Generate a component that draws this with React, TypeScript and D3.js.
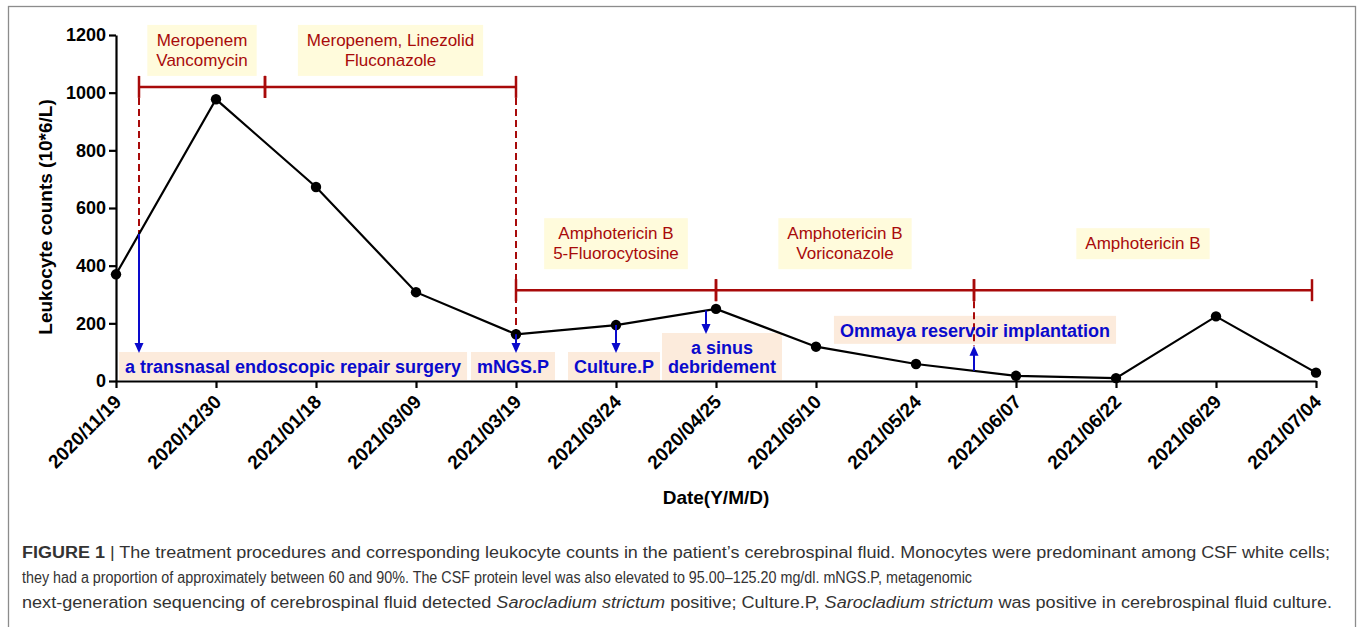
import React, {useEffect, useRef} from "react";
import * as d3 from "d3";

const dates: string[] = ["2020/11/19", "2020/12/30", "2021/01/18", "2021/03/09", "2021/03/19", "2021/03/24", "2020/04/25",
  "2021/05/10", "2021/05/24", "2021/06/07", "2021/06/22", "2021/06/29", "2021/07/04"];
const counts: number[] = [370, 977, 673, 308, 162, 194, 250, 119, 59, 18, 10, 224, 29];
const yTicks: number[] = [0, 200, 400, 600, 800, 1000, 1200];

// treatment periods, positions in date-index units
const drugStarts: number[] = [0.23, 1.49, 4, 6, 8.58];
const drugEnds: number[] = [1.49, 4, 6, 8.58, 11.96];
const drugLevels: number[] = [1020, 1020, 315, 315, 315];
const drugLabels: string[][] = [["Meropenem", "Vancomycin"], ["Meropenem, Linezolid", "Fluconazole"],
  ["Amphotericin B", "5-Fluorocytosine"], ["Amphotericin B", "Voriconazole"], ["Amphotericin B"]];

// procedures / lab events
const eventAt: number[] = [0.23, 4, 5, 5.9, 8.58];
const eventLabelAt: number[] = [1.77, 3.97, 4.98, 6.06, 8.59];
const eventUp: boolean[] = [false, false, false, false, true];
const eventDashed: boolean[] = [true, true, false, false, true];
const eventLabels: string[][] = [["a transnasal endoscopic repair surgery"], ["mNGS.P"], ["Culture.P"],
  ["a sinus", "debridement"], ["Ommaya reservoir implantation"]];

const RED = "#a80a0a";
const BLUE = "#0a0acc";
const FONT = "'Liberation Sans', Arial, sans-serif";

function valueAt(pos: number): number {
  const i = Math.min(Math.floor(pos), counts.length - 2);
  const t = pos - i;
  return counts[i] + (counts[i + 1] - counts[i]) * t;
}

export default function App(): React.ReactElement {
  const svgRef = useRef<SVGSVGElement>(null);

  useEffect(() => {
    if (svgRef.current === null) return;
    const svg = d3.select(svgRef.current);
    svg.selectAll("*").remove();

    const x = d3.scaleLinear().domain([0, dates.length - 1]).range([116, 1316]);
    const y = d3.scaleLinear().domain([0, 1200]).range([381, 35]);

    // frame
    svg.append("rect").attr("x", 8.5).attr("y", 6.5).attr("width", 1347).attr("height", 660)
      .attr("fill", "none").attr("stroke", "#8c8c8c").attr("stroke-width", 1.3);

    const gBoxes = svg.append("g");
    const gLines = svg.append("g");
    const gText = svg.append("g");

    // drug labels + period bars
    drugLabels.forEach((lines, i) => {
      const cx = (x(drugStarts[i]) + x(drugEnds[i])) / 2;
      const cy = y(drugLevels[i]) - (drugLevels[i] > 600 ? 36 : 46);
      const t = gText.append("text").attr("font-family", FONT).attr("font-size", 17).attr("fill", RED)
        .attr("text-anchor", "middle");
      const top = cy - lines.length * 10;
      lines.forEach((l, j) => t.append("tspan").attr("x", cx).attr("y", top + j * 20 + 15).text(l));
      const w = d3.max(lines, (l, j) => (t.selectAll("tspan").nodes()[j] as SVGTextContentElement).getComputedTextLength()) || 0;
      gBoxes.append("rect").attr("x", cx - w / 2 - 9).attr("y", top - 6).attr("width", w + 18)
        .attr("height", lines.length * 20 + 11).attr("fill", "#fffbdc");

      const by = y(drugLevels[i]);
      gLines.append("line").attr("x1", x(drugStarts[i])).attr("x2", x(drugEnds[i])).attr("y1", by).attr("y2", by)
        .attr("stroke", RED).attr("stroke-width", 2.5);
      [drugStarts[i], drugEnds[i]].forEach(p => {
        gLines.append("line").attr("x1", x(p)).attr("x2", x(p)).attr("y1", by - 11).attr("y2", by + 11)
          .attr("stroke", RED).attr("stroke-width", 2.5);
      });
    });

    // axes
    const yAxis = svg.append("g").attr("transform", `translate(${x(0)},0)`)
      .call(d3.axisLeft(y).tickValues(yTicks).tickSize(7).tickSizeOuter(0).tickPadding(3).tickFormat(d3.format("d")));
    yAxis.select(".domain").attr("stroke-width", 2.2);
    yAxis.selectAll("line").attr("stroke-width", 2.2);
    yAxis.selectAll("text").attr("font-family", FONT).attr("font-weight", "bold").attr("font-size", 18).attr("fill", "#000");

    const xAxis = svg.append("g").attr("transform", `translate(0,${y(0)})`)
      .call(d3.axisBottom(x).tickValues(d3.range(dates.length)).tickSize(7).tickSizeOuter(0)
        .tickFormat((d) => dates[d as number]));
    xAxis.select(".domain").attr("stroke-width", 2.2);
    xAxis.selectAll("line").attr("stroke-width", 2.2);
    xAxis.selectAll("text").attr("font-family", FONT).attr("font-weight", "bold").attr("font-size", 19).attr("fill", "#000")
      .attr("text-anchor", "end").attr("x", 0).attr("y", 0).attr("dy", 0)
      .attr("transform", "translate(6,22) rotate(-45)");

    svg.append("text").attr("transform", `translate(52,217) rotate(-90)`).attr("text-anchor", "middle")
      .attr("font-family", FONT).attr("font-weight", "bold").attr("font-size", 19).text("Leukocyte counts (10*6/L)");
    svg.append("text").attr("x", x(6)).attr("y", 504).attr("text-anchor", "middle")
      .attr("font-family", FONT).attr("font-weight", "bold").attr("font-size", 19).text("Date(Y/M/D)");

    // events: boxes, arrows, dashed guides
    const gArrows = svg.append("g");
    eventLabels.forEach((lines, i) => {
      const ax = x(eventAt[i]);
      const lineY = y(valueAt(eventAt[i]));
      const cx = x(eventLabelAt[i]);
      const t = gText.append("text").attr("font-family", FONT).attr("font-weight", "bold").attr("font-size", 18)
        .attr("fill", BLUE).attr("text-anchor", "middle");
      const h = 9 + lines.length * 19;
      let boxTop: number, tipY: number;
      if (eventUp[i]) {
        tipY = lineY - 25;
        boxTop = tipY - 2 - h;
      } else {
        boxTop = y(0) - 1 - h;
        tipY = boxTop + 1;
      }
      lines.forEach((l, j) => t.append("tspan").attr("x", cx).attr("y", boxTop + 21 + j * 19).text(l));
      const w = d3.max(lines, (l, j) => (t.selectAll("tspan").nodes()[j] as SVGTextContentElement).getComputedTextLength()) || 0;
      gBoxes.append("rect").attr("x", cx - w / 2 - 6).attr("y", boxTop).attr("width", w + 12).attr("height", h)
        .attr("fill", "#fcebdc");

      const dir = eventUp[i] ? -1 : 1;
      gArrows.append("line").attr("x1", ax).attr("x2", ax).attr("y1", lineY).attr("y2", tipY - dir * 8)
        .attr("stroke", BLUE).attr("stroke-width", 2);
      gArrows.append("path")
        .attr("d", `M${ax - 4.5},${tipY - dir * 10}L${ax + 4.5},${tipY - dir * 10}L${ax},${tipY}Z`)
        .attr("fill", BLUE);

      if (eventDashed[i]) {
        const level = eventAt[i] < 5 ? drugLevels[0] : drugLevels[2];
        const barY = y(level) + 11;
        const endY = eventUp[i] ? tipY : lineY;
        gLines.append("line").attr("x1", ax).attr("x2", ax).attr("y1", barY).attr("y2", endY)
          .attr("stroke", RED).attr("stroke-width", 2).attr("stroke-dasharray", "7,4");
      }
    });

    // data line
    const line = d3.line<number>().x((d, i) => x(i)).y(d => y(d));
    svg.append("path").datum(counts).attr("d", line).attr("fill", "none").attr("stroke", "#000").attr("stroke-width", 2.2);
    svg.append("g").selectAll("circle").data(counts).join("circle")
      .attr("cx", (d, i) => x(i)).attr("cy", d => y(d)).attr("r", 5.2).attr("fill", "#000");

    svg.node()?.appendChild(gArrows.node() as Node);
    svg.node()?.appendChild(gText.node() as Node);

    // caption
    const cap = svg.append("g").attr("font-family", "'Liberation Sans Narrow', 'Liberation Sans', Arial, sans-serif")
      .attr("font-size", 16).attr("fill", "#333");
    const l1 = cap.append("text").attr("x", 22).attr("y", 558).attr("textLength", 1308).attr("lengthAdjust", "spacingAndGlyphs");
    l1.append("tspan").attr("font-weight", "bold").text("FIGURE 1");
    l1.append("tspan").text(" | The treatment procedures and corresponding leukocyte counts in the patient\u2019s cerebrospinal fluid. Monocytes were predominant among CSF white cells;");
    cap.append("text").attr("x", 22).attr("y", 583).attr("textLength", 950).attr("lengthAdjust", "spacingAndGlyphs")
      .text("they had a proportion of approximately between 60 and 90%. The CSF protein level was also elevated to 95.00\u2013125.20 mg/dl. mNGS.P, metagenomic");
    const l3 = cap.append("text").attr("x", 22).attr("y", 608).attr("textLength", 1310).attr("lengthAdjust", "spacingAndGlyphs");
    l3.append("tspan").text("next-generation sequencing of cerebrospinal fluid detected ");
    l3.append("tspan").attr("font-style", "italic").text("Sarocladium strictum");
    l3.append("tspan").text(" positive; Culture.P, ");
    l3.append("tspan").attr("font-style", "italic").text("Sarocladium strictum");
    l3.append("tspan").text(" was positive in cerebrospinal fluid culture.");
  }, []);

  return (
    <div>
      <style>{"body{margin:0;background:#fff}"}</style>
      <svg ref={svgRef} width={1358} height={627} style={{display: "block"}}></svg>
    </div>
  );
}
